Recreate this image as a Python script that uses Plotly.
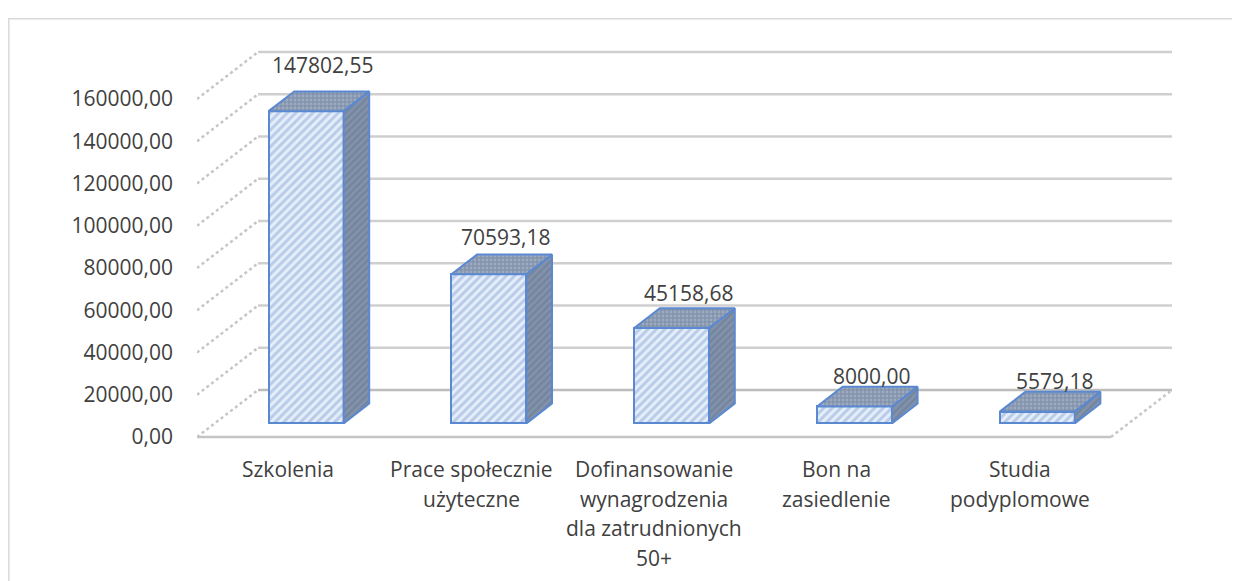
import plotly.graph_objects as go

# ---- data ----
categories = ["Szkolenia", "Prace społecznie<br>użyteczne",
              "Dofinansowanie<br>wynagrodzenia<br>dla zatrudnionych<br>50+",
              "Bon na<br>zasiedlenie", "Studia<br>podyplomowe"]
values = [147802.55, 70593.18, 45158.68, 8000.00, 5579.18]
tick_values = [0, 20000, 40000, 60000, 80000, 100000, 120000, 140000, 160000]

def fmt(v):
    return f"{v:.2f}".replace(".", ",")

tick_text = [fmt(v) for v in tick_values]

# ---- pseudo-3D projection parameters (in data units) ----
DEPTH_X = 0.334      # full-depth shift in category units
DEPTH_Y = 22250.0    # full-depth shift in value units
D0, D1 = 0.29, 0.71  # bar depth span (fraction of floor depth)
HALF_W = 0.205       # half bar width (category units)
n = len(categories)
X_LEFT, X_RIGHT = -0.5, n - 0.5

FONT = "Open Sans"
TXT = "#404040"
EDGE = "#5A89D2"

fig = go.Figure()

# front faces as real bars
b0 = D0 * DEPTH_Y
fig.add_trace(go.Bar(
    x=[i + D0 * DEPTH_X for i in range(n)], y=values, base=[b0] * n,
    width=2 * HALF_W,
    marker=dict(color="#DCE6F4", line=dict(color=EDGE, width=2),
                pattern=dict(shape="/", fgcolor="#8AA8DA", bgcolor="#E6EEF9",
                             size=6, solidity=0.5)),
    hoverinfo="skip", showlegend=False))

dx = (D1 - D0) * DEPTH_X
dy = (D1 - D0) * DEPTH_Y
for i, v in enumerate(values):
    xl = i - HALF_W + D0 * DEPTH_X
    xr = i + HALF_W + D0 * DEPTH_X
    top = b0 + v
    # side face
    fig.add_trace(go.Scatter(
        x=[xr, xr, xr + dx, xr + dx, xr], y=[b0, top, top + dy, b0 + dy, b0],
        mode="lines", fill="toself", fillcolor="#7F8FA8",
        fillpattern=dict(shape="/", fgcolor="#66768F", bgcolor="#8292AA",
                         size=5, solidity=0.45),
        line=dict(color=EDGE, width=2), hoverinfo="skip", showlegend=False))
    # top face
    fig.add_trace(go.Scatter(
        x=[xl, xr, xr + dx, xl + dx, xl], y=[top, top, top + dy, top + dy, top],
        mode="lines", fill="toself", fillcolor="#8E9DB5",
        fillpattern=dict(shape=".", fgcolor="#B8C3D4", bgcolor="#8393AC",
                         size=4, solidity=0.4),
        line=dict(color=EDGE, width=2), hoverinfo="skip", showlegend=False))

# ---- walls & gridlines ----
shapes = []
GRID = "#CFCFCF"
for t in tick_values:
    col = "#BDBDBD" if t == 0 else GRID
    # back wall
    shapes.append(dict(type="line", xref="x", yref="y", layer="below",
                       x0=X_LEFT + DEPTH_X, y0=t + DEPTH_Y,
                       x1=X_RIGHT + DEPTH_X, y1=t + DEPTH_Y,
                       line=dict(color=col, width=2.5)))
    # side wall diagonal
    shapes.append(dict(type="line", xref="x", yref="y", layer="below",
                       x0=X_LEFT, y0=t, x1=X_LEFT + DEPTH_X, y1=t + DEPTH_Y,
                       line=dict(color="#C6C6C6", width=2.5, dash="dot")))
# floor front and right edges
shapes.append(dict(type="line", xref="x", yref="y", layer="below",
                   x0=X_LEFT, y0=0, x1=X_RIGHT, y1=0,
                   line=dict(color="#C4C4C4", width=2.5)))
shapes.append(dict(type="line", xref="x", yref="y", layer="below",
                   x0=X_RIGHT, y0=0, x1=X_RIGHT + DEPTH_X, y1=DEPTH_Y,
                   line=dict(color="#C6C6C6", width=2.5, dash="dot")))
# outer chart border
shapes.append(dict(type="rect", xref="paper", yref="paper", layer="below",
                   x0=-0.193, y0=-0.45, x1=1.1, y1=1.058,
                   line=dict(color="#D9D9D9", width=1.5), fillcolor="rgba(0,0,0,0)"))

# ---- annotations ----
annotations = []
for i, v in enumerate(values):
    annotations.append(dict(
        x=i + (D0 + D1) / 2 * DEPTH_X, y=b0 + v + dy, xref="x", yref="y",
        text=fmt(v), showarrow=False, xanchor="center", yanchor="middle",
        xshift=4, yshift=10 + 0.00011 * v,
        font=dict(family=FONT, size=21, color=TXT)))
for i, c in enumerate(categories):
    for k, line in enumerate(c.split("<br>")):
        annotations.append(dict(
            x=i, y=0, xref="x", yref="paper", text=line, showarrow=False,
            xanchor="center", yanchor="middle", yshift=-(26 + 29.5 * k),
            font=dict(family=FONT, size=21, color=TXT)))

fig.update_layout(
    width=1240, height=581,
    margin=dict(l=189, r=76, t=34, b=146, autoexpand=False),
    paper_bgcolor="white", plot_bgcolor="white",
    shapes=shapes, annotations=annotations, bargap=0,
    font=dict(family=FONT, size=21, color=TXT),
    xaxis=dict(range=[X_LEFT, X_RIGHT + DEPTH_X], showgrid=False, zeroline=False,
               showticklabels=False, showline=False, fixedrange=True),
    yaxis=dict(range=[-2840, 186993], showgrid=False, zeroline=False,
               showline=False, tickmode="array", tickvals=tick_values,
               ticktext=tick_text, ticks="", ticklabelstandoff=23,
               tickfont=dict(family=FONT, size=21, color=TXT), fixedrange=True),
)

fig.write_html("out.html")
